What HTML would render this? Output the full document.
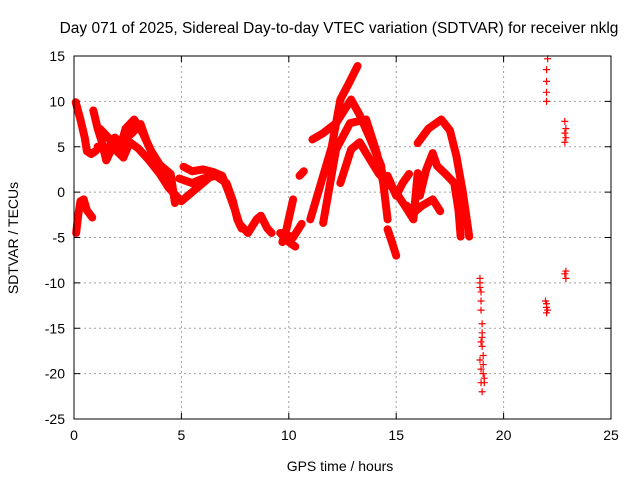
<!DOCTYPE html>
<html><head><meta charset="utf-8"><style>
body{margin:0;background:#fff}
svg{display:block;font-family:"Liberation Sans",sans-serif}
</style></head><body>
<svg id="chart" width="640" height="480">
<rect width="640" height="480" fill="#fff"/>
<text x="339" y="33" font-size="15.5" text-anchor="middle">Day 071 of 2025, Sidereal Day-to-day VTEC variation (SDTVAR) for receiver nklg</text>
<g id="grid"></g><g id="ticks"></g><g id="marks"></g>
<rect x="74" y="56" width="537" height="363" fill="none" stroke="#000" stroke-width="1"/>
<text x="340" y="471" font-size="14" text-anchor="middle">GPS time / hours</text>
<text transform="translate(18,238) rotate(-90)" font-size="14" text-anchor="middle">SDTVAR / TECUs</text>
</svg>
<script>
const xTicks=[0,5,10,15,20,25];
const yTicks=[15,10,5,0,-5,-10,-15,-20,-25];
// tracks of [hour, SDTVAR]
const trackA=[[0.08,9.9],[0.3,8],[0.5,6],[0.6,4.5],[0.8,4.2],[1,4.5]];
const trackB=[[0.1,-4.5],[0.2,-2.5],[0.3,-1],[0.45,-0.8],[0.6,-2],[0.85,-2.8]];
const trackC=[[0.9,9],[1.1,7],[1.3,5.5],[1.5,3.5],[1.8,5],[2.1,4.5],[2.4,7],[2.8,8],[3.2,6.5],[3.6,4.5],[4,3],[4.5,2],[4.7,-1.2]];
const trackD=[[1.2,7],[1.6,6],[2,4.5],[2.3,3.8],[2.6,5.5],[3,4.8],[3.5,3.5],[4,2],[4.4,0.5],[5,-1],[5.5,0],[6,1],[6.5,2]];
const trackD2=[[1.1,5],[1.5,4.5],[1.9,6],[2.2,5.5],[2.7,6.5],[3.1,7.5],[3.4,5.5],[3.8,3.5],[4.2,2],[4.4,1]];
const trackE=[[5.1,2.8],[5.5,2.3],[6,2.5],[6.5,2.2],[6.9,1.8],[7.2,0],[7.5,-2],[7.7,-3.5],[8.1,-4.5],[8.5,-3],[8.7,-2.6],[9,-4],[9.2,-4.5]];
const trackE2=[[4.9,1.5],[5.5,1],[6,1.5],[6.6,1.8],[7.1,1],[7.4,-1],[7.6,-3],[7.8,-4]];
const trackF=[[9.7,-5.5],[9.9,-4],[10.2,-0.8]];
const trackG=[[9.6,-4.5],[10,-5.5],[10.3,-6]];
const trackG2=[[9.7,-4.5],[10.2,-5],[10.6,-3.5]];
const trackH=[[10.5,1.8],[10.7,2.3]];
const trackI=[[11,-3],[11.5,1],[12,5],[12.4,10.2],[12.8,12],[13.2,13.9]];
const trackJ=[[11.1,5.8],[11.6,6.5],[12.2,7.6],[12.9,10.2],[13.3,8.5],[13.8,5.8],[14.3,2.9],[14.6,-3]];
const trackK=[[11.6,-3.4],[12.2,4.7],[12.85,7.6],[13.6,8],[14.1,4.3],[14.4,1]];
const trackL=[[12.4,1],[12.9,4.7],[13.3,5.5],[13.6,4.3],[14.2,2],[14.9,0.3],[15.4,-1.5],[15.8,-3],[16,2.1]];
const trackM=[[14.6,-4.1],[14.8,-5.5],[15,-7]];
const trackN=[[16,5.4],[16.5,7],[17.1,8],[17.5,6.8],[17.8,4],[18.1,0],[18.4,-4.9]];
const trackO=[[16.1,-0.4],[16.4,2.5],[16.7,4.3],[16.9,2.9],[17.3,2],[17.7,1],[17.9,-2],[18,-4.9]];
const trackP=[[15.5,-1.5],[15.8,-2.3],[16.2,-1.5],[16.7,-0.8],[17.05,-2.1]];
const trackQ=[[14.6,1.8],[15,-0.4],[15.3,1],[15.6,2]];
const scatterPts=[[18.9,-9.5],[18.9,-10],[18.9,-10.5],[18.95,-11],[18.95,-12],[18.95,-13],[19,-14.5],[19,-15.5],[18.95,-16.5],[19,-17],[18.9,-18.5],[19.05,-19],[18.95,-19.5],[19.05,-20],[19.1,-20.5],[18.95,-21],[19,-22],[19.1,-21],[19.05,-18],[19,-16],
[22,10],[22,11],[22,12.2],[22,13.5],[22.05,14.7],[21.95,-12],[22,-12.3],[22,-12.7],[22.05,-13],[22,-13.3],
[22.85,7.8],[22.9,7],[22.85,6.5],[22.9,6],[22.85,5.5],[22.9,-8.7],[22.85,-9],[22.9,-9.5]];
const tracks=[trackA,trackB,trackC,trackD,trackD2,trackE,trackE2,trackF,trackG,trackG2,trackH,trackI,trackJ,trackK,trackL,trackM,trackN,trackO,trackP,trackQ];

const X0=74,X1=611,Y0=56,Y1=419;
function sx(h){return X0+(h-0)/(25-0)*(X1-X0);}
function sy(v){return Y0+(15-v)/(15-(-25))*(Y1-Y0);}
const NS="http://www.w3.org/2000/svg";
function mk(t,a,p){const e=document.createElementNS(NS,t);for(const k in a)e.setAttribute(k,a[k]);p.appendChild(e);return e;}
const grid=document.getElementById('grid'),ticks=document.getElementById('ticks'),marks=document.getElementById('marks');
xTicks.forEach(t=>{const x=sx(t);
 if(t>0&&t<25){const g=mk('line',{x1:x,x2:x,y1:Y0,y2:Y1,stroke:'#a0a0a0','stroke-dasharray':'2,3'},grid);
 
 }
 mk('line',{x1:x,x2:x,y1:Y1,y2:Y1-6,stroke:'#000'},ticks);mk('line',{x1:x,x2:x,y1:Y0,y2:Y0+6,stroke:'#000'},ticks);
 const l=mk('text',{x:x,y:Y1+21,'font-size':14,'text-anchor':'middle'},ticks);l.textContent=t;
 
 });
yTicks.forEach(t=>{const y=sy(t);
 if(t<15&&t>-25){const g=mk('line',{x1:X0,x2:X1,y1:y,y2:y,stroke:'#a0a0a0','stroke-dasharray':'2,3'},grid);
 
 }
 mk('line',{x1:X0,x2:X0+6,y1:y,y2:y,stroke:'#000'},ticks);mk('line',{x1:X1,x2:X1-6,y1:y,y2:y,stroke:'#000'},ticks);
 const l=mk('text',{x:X0-9,y:y+5,'font-size':14,'text-anchor':'end'},ticks);l.textContent=t;
 
 });
function plus(h,v){const x=sx(h),y=sy(v);
 const p=mk('path',{d:`M${x-3.5},${y}H${x+3.5}M${x},${y-3.5}V${y+3.5}`,stroke:'#f00','stroke-width':1.2,fill:'none'},marks);
 
 }
tracks.forEach(tr=>{
 const pl=mk('polyline',{points:tr.map(p=>sx(p[0])+','+sy(p[1])).join(' '),stroke:'#f00','stroke-width':8,fill:'none','stroke-linejoin':'round','stroke-linecap':'round'},marks);
 
 
 tr.forEach(p=>plus(p[0],p[1]));});
scatterPts.forEach(p=>plus(p[0],p[1]));
</script>
</body></html>
